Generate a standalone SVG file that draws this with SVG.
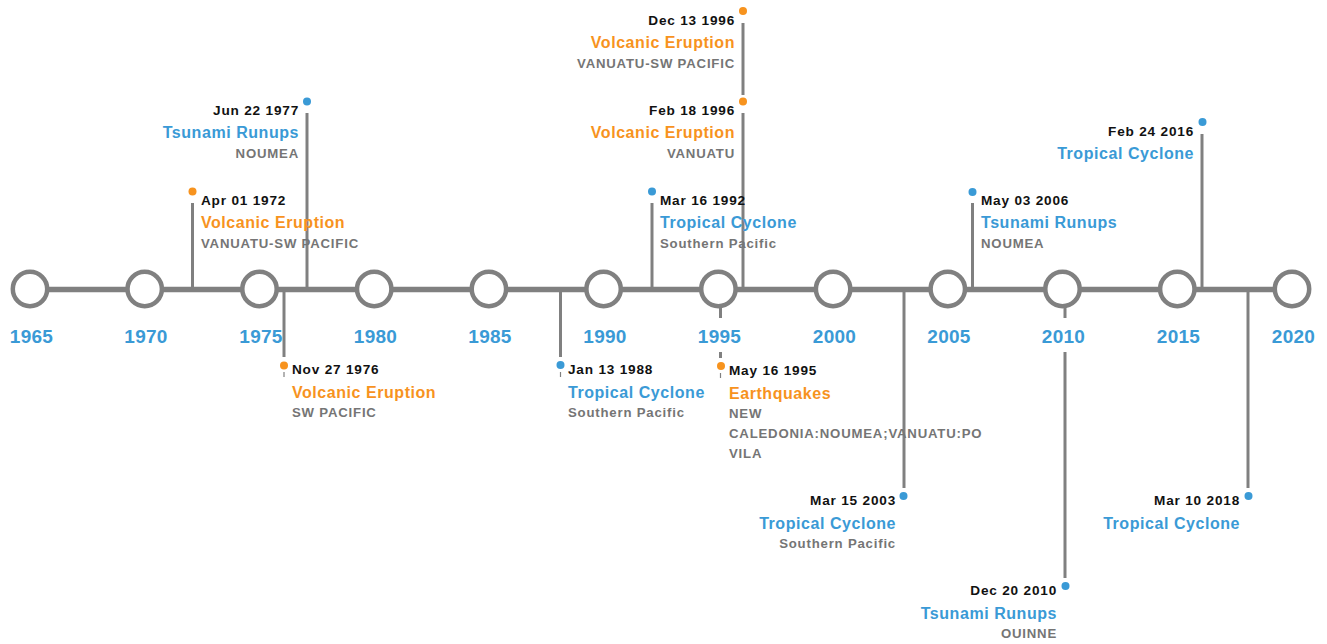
<svg xmlns="http://www.w3.org/2000/svg" width="1327" height="644" viewBox="0 0 1327 644">
<style>
text{font-family:"Liberation Sans",Arial,Helvetica,sans-serif;font-weight:bold}
.yr{font-size:19px;fill:#3a9ad6;text-anchor:middle;letter-spacing:0.3px}
.dt{font-size:13.6px;fill:#111;letter-spacing:0.8px}
.tb{font-size:16px;fill:#3a9ad6;letter-spacing:0.55px}
.to{font-size:16px;fill:#f7931e;letter-spacing:0.55px}
.lc{font-size:13.2px;fill:#757575;letter-spacing:0.8px}
.e{text-anchor:end}
.ring{fill:#fff;stroke:#808080;stroke-width:4.5}
.con{stroke:#808080;stroke-width:3;fill:none}
.tick{stroke:#808080;stroke-width:1.2;fill:none}
.db{fill:#3a9ad6}
.do{fill:#f7931e}
.box{fill:#fff}
</style>
<g id="connectors">
<path class="con" d="M192.5 289 V203"/>
<path class="con" d="M307 289 V113"/>
<path class="con" d="M284 289 V357"/><path class="tick" d="M284 372 V377"/>
<path class="con" d="M560.5 289 V357"/><path class="tick" d="M560.5 372 V377"/>
<path class="con" d="M652 289 V203"/>
<path class="con" d="M720.5 300 V358"/><path class="tick" d="M720.5 373 V378"/>
<path class="con" d="M743 289 V113"/>
<path class="con" d="M743 95 V23"/>
<path class="con" d="M904 289 V488"/>
<path class="con" d="M972.5 289 V203"/>
<path class="con" d="M1065 300 V578"/>
<path class="con" d="M1202 289 V134"/>
<path class="con" d="M1248 289 V488"/>
</g>
<g id="axis">
<line x1="30" y1="289.5" x2="1292" y2="289.5" stroke="#808080" stroke-width="5.5"/>
</g>
<g id="years">
<g id="y1965"><circle class="ring" cx="30" cy="289" r="17.2"/><rect class="box" x="8" y="318" width="44" height="34"/><text class="yr" x="31.5" y="343">1965</text></g>
<g id="y1970"><circle class="ring" cx="144.7" cy="289" r="17.2"/><rect class="box" x="123" y="318" width="44" height="34"/><text class="yr" x="146" y="343">1970</text></g>
<g id="y1975"><circle class="ring" cx="259.5" cy="289" r="17.2"/><rect class="box" x="238" y="318" width="44" height="34"/><text class="yr" x="261" y="343">1975</text></g>
<g id="y1980"><circle class="ring" cx="374.2" cy="289" r="17.2"/><rect class="box" x="352" y="318" width="44" height="34"/><text class="yr" x="375.5" y="343">1980</text></g>
<g id="y1985"><circle class="ring" cx="488.9" cy="289" r="17.2"/><rect class="box" x="467" y="318" width="44" height="34"/><text class="yr" x="490" y="343">1985</text></g>
<g id="y1990"><circle class="ring" cx="603.6" cy="289" r="17.2"/><rect class="box" x="582" y="318" width="44" height="34"/><text class="yr" x="605" y="343">1990</text></g>
<g id="y1995"><circle class="ring" cx="718.4" cy="289" r="17.2"/><rect class="box" x="696" y="318" width="46" height="34"/><text class="yr" x="719.5" y="343">1995</text></g>
<g id="y2000"><circle class="ring" cx="833.1" cy="289" r="17.2"/><rect class="box" x="811" y="318" width="44" height="34"/><text class="yr" x="834.5" y="343">2000</text></g>
<g id="y2005"><circle class="ring" cx="947.8" cy="289" r="17.2"/><rect class="box" x="926" y="318" width="44" height="34"/><text class="yr" x="949" y="343">2005</text></g>
<g id="y2010"><circle class="ring" cx="1062.5" cy="289" r="17.2"/><rect class="box" x="1040" y="318" width="46" height="34"/><text class="yr" x="1063.5" y="343">2010</text></g>
<g id="y2015"><circle class="ring" cx="1177.3" cy="289" r="17.2"/><rect class="box" x="1155" y="318" width="44" height="34"/><text class="yr" x="1178.5" y="343">2015</text></g>
<g id="y2020"><circle class="ring" cx="1292" cy="289" r="17.2"/><rect class="box" x="1270" y="318" width="44" height="34"/><text class="yr" x="1293.5" y="343">2020</text></g>
</g>
<g id="ev1972"><circle class="do" cx="192.5" cy="191.5" r="4"/><text class="dt" x="201" y="205">Apr 01 1972</text><text class="to" x="201" y="228">Volcanic Eruption</text><text class="lc" x="201" y="248">VANUATU-SW PACIFIC</text></g>
<g id="ev1977"><circle class="db" cx="307" cy="101.5" r="4"/><text class="dt e" x="299" y="115">Jun 22 1977</text><text class="tb e" x="299" y="138">Tsunami Runups</text><text class="lc e" x="299" y="158">NOUMEA</text></g>
<g id="ev1976"><circle class="do" cx="284" cy="365.5" r="4"/><text class="dt" x="292" y="374">Nov 27 1976</text><text class="to" x="292" y="398">Volcanic Eruption</text><text class="lc" x="292" y="417">SW PACIFIC</text></g>
<g id="ev1988"><circle class="db" cx="560.5" cy="365" r="4"/><text class="dt" x="568" y="374">Jan 13 1988</text><text class="tb" x="568" y="398">Tropical Cyclone</text><text class="lc" x="568" y="417">Southern Pacific</text></g>
<g id="ev1992"><circle class="db" cx="652" cy="191.5" r="4"/><text class="dt" x="660" y="205">Mar 16 1992</text><text class="tb" x="660" y="228">Tropical Cyclone</text><text class="lc" x="660" y="248">Southern Pacific</text></g>
<g id="ev1995"><circle class="do" cx="721" cy="366" r="4"/><text class="dt" x="729" y="375">May 16 1995</text><text class="to" x="729" y="399">Earthquakes</text><text class="lc" x="729" y="418">NEW</text><text class="lc" x="729" y="438">CALEDONIA:NOUMEA;VANUATU:PO</text><text class="lc" x="729" y="458">VILA</text></g>
<g id="ev1996b"><circle class="do" cx="743" cy="101.5" r="4"/><text class="dt e" x="735" y="115">Feb 18 1996</text><text class="to e" x="735" y="138">Volcanic Eruption</text><text class="lc e" x="735" y="158">VANUATU</text></g>
<g id="ev1996a"><circle class="do" cx="743" cy="11" r="4"/><text class="dt e" x="735" y="25">Dec 13 1996</text><text class="to e" x="735" y="48">Volcanic Eruption</text><text class="lc e" x="735" y="68">VANUATU-SW PACIFIC</text></g>
<g id="ev2003"><circle class="db" cx="903.5" cy="496" r="4"/><text class="dt e" x="896" y="505">Mar 15 2003</text><text class="tb e" x="896" y="529">Tropical Cyclone</text><text class="lc e" x="896" y="548">Southern Pacific</text></g>
<g id="ev2006"><circle class="db" cx="972.5" cy="192" r="4"/><text class="dt" x="981" y="205">May 03 2006</text><text class="tb" x="981" y="228">Tsunami Runups</text><text class="lc" x="981" y="248">NOUMEA</text></g>
<g id="ev2010"><circle class="db" cx="1065.5" cy="586" r="4"/><text class="dt e" x="1057" y="595">Dec 20 2010</text><text class="tb e" x="1057" y="619">Tsunami Runups</text><text class="lc e" x="1057" y="638">OUINNE</text></g>
<g id="ev2016"><circle class="db" cx="1202.5" cy="122" r="4"/><text class="dt e" x="1194" y="136">Feb 24 2016</text><text class="tb e" x="1194" y="159">Tropical Cyclone</text></g>
<g id="ev2018"><circle class="db" cx="1248.5" cy="496" r="4"/><text class="dt e" x="1240" y="505">Mar 10 2018</text><text class="tb e" x="1240" y="529">Tropical Cyclone</text></g>
</svg>
